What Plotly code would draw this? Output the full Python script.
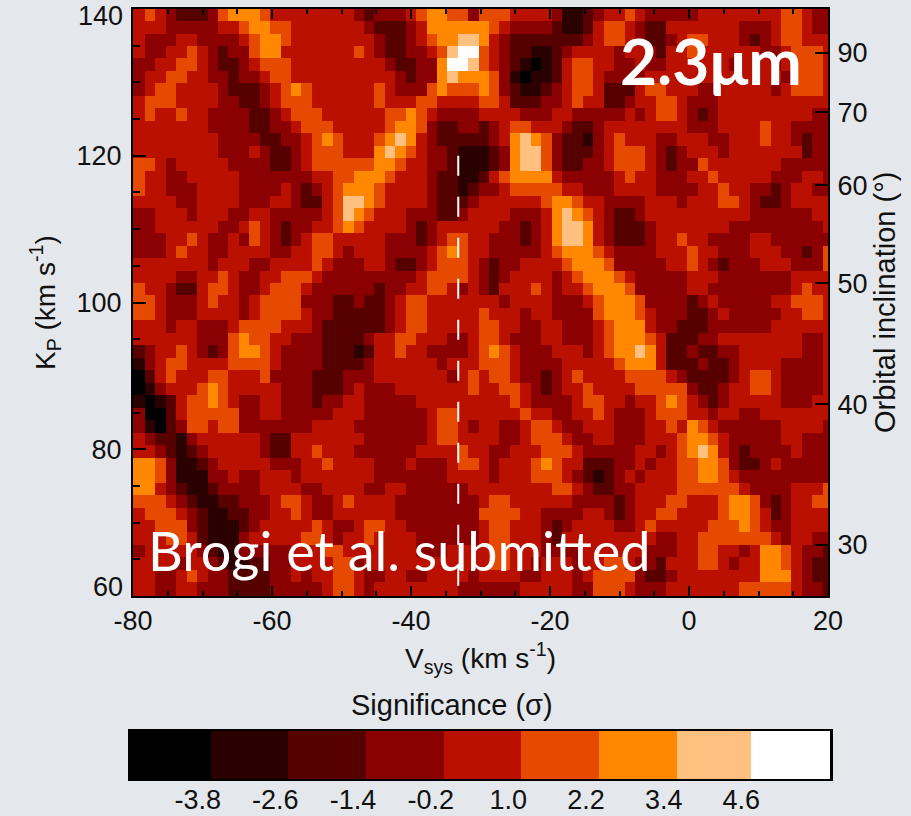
import plotly.graph_objects as go

# significance band per cell, top row first: digit = colour band index
ROWS_LEFT = [
"4543222356 6654444444 4323334566 553",
"4443333344 5665544444 4432223466 666",
"4333443333 4566544444 4443223456 677",
"4334454323 3566444444 4543223345 788",
"3344554322 3455544444 4444322336 887",
"3445544332 3345544444 4444432336 766",
"3455444432 2234565444 4445433356 555",
"4555444433 2234555444 4445444554 444",
"4544544333 3223455544 4444556543 333",
"4444444333 3223345554 4444566532 233",
"4444444433 3322334565 4445676432 222",
"4444444433 3432234555 4446765433 211",
"5543444443 3332234555 5556654433 211",
"5443344444 3333333445 5666544432 211",
"5443334444 3333432345 6665444432 212",
"4444334444 3334432245 7765444432 223",
"3344434443 3443333345 7654443332 234",
"3344444433 4543233445 6544443234 444",
"3334454334 3543234554 4444333234 554",
"3334544334 4443344554 3444333345 654",
"4444444344 4334444543 3344322345 554",
"4444334454 3344555433 3333333455 554",
"5443224554 3345554333 3332334455 434",
"5543334544 3455553332 2322345544 444",
"5543334444 3455554332 2222345544 444",
"4443443334 5555444322 2222345544 444",
"4444443335 6554433322 2234455444 334",
"2344543235 6654333322 2124454433 334",
"1345544445 5554333322 2234444443 444",
"0245444554 4453333222 3334444444 345",
"0134445654 4444333222 3433344444 445",
"1012455654 3344333233 4433333444 444",
"3002455555 3344333334 4433333345 544",
"3102355455 3333333444 4333333345 543",
"4322134444 4432244444 4433333345 544",
"4432123444 4432244544 4333333444 454",
"6653112344 4443334454 4443334333 455",
"6653111334 3344434444 4443333333 444",
"6643211233 3344443344 4433443333 334",
"5554321122 3334554334 5444433333 333",
"4555432112 2334454334 4444433333 333",
"4455532111 2344444543 3455443333 333",
"4445542111 3444445543 4454444333 333",
"3444443211 3333344455 4444444333 444",
"4444344321 1223344445 5344444444 444",
"4433454332 2223343445 5433443344 443",
"4433443332 2223333345 5434444444 433",
]
ROWS_RIGHT = [
"5554444311 2344543333 3444444445 5433",
"6543333211 2455432244 4444433345 5433",
"6432222222 3455432234 5544432345 5444",
"5432211234 4443443244 5444444334 5554",
"5432101245 5443343344 4444344434 5554",
"6531011245 5433334444 4444444443 5554",
"6532112345 5422245544 4334444434 5554",
"5542223345 4422344554 3334444444 4444",
"4444333443 3333434554 3234444444 4433",
"2345544432 2344444444 3334444544 3333",
"2346765322 1345444334 4433444544 3233",
"1236775322 2345554323 4443444444 4233",
"1236775322 3345554323 3544444443 3333",
"2456666433 3334544333 4454444433 3443",
"3345555544 3334444333 3445443323 4433",
"4444445665 4433334443 4445543223 4444",
"4443334676 5432234444 4444443333 3344",
"4433234677 6432223444 4444333333 3334",
"4333234677 6432223445 4433334433 3333",
"4333334566 6543333444 5443334443 3235",
"3233444456 6653333344 5432333444 3335",
"3234444345 6665433333 4443333333 4444",
"3244454344 5666533333 4433333333 4544",
"4434444333 4566653333 2343333344 5554",
"5444344333 3566654333 2234333334 4554",
"5544334433 3456664332 2233333344 4444",
"5543334433 3456665422 2334444444 4334",
"5654333444 3456676422 3223344444 4334",
"5554333344 4445666422 2322344443 3334",
"4554332345 4444555543 2222345543 3334",
"4455432344 5444455555 3223445543 3334",
"4445433334 5544344565 4323444443 3344",
"4444544334 4543334555 4434433444 4444",
"4433455433 4443334454 6543333334 4443",
"4433455543 3443334445 6654333334 4333",
"4334445554 3333344345 6764323333 4333",
"4344456544 2223343445 5665322343 3333",
"4344455543 2123434445 5665433333 3333",
"4444444554 3223344445 5555543333 4445",
"4554444443 3332344455 4445665323 4455",
"5555443333 4432344554 4445665423 4444",
"4554443234 4443345444 4455565433 4444",
"4554443244 4444444334 4555555543 4433",
"4554443333 4444443334 4554434665 4332",
"4554434443 4455433244 4554344665 4322",
"4444334443 4555532234 4444444666 4322",
"3333444443 3555433344 4444455555 4332",
]

LEVEL_SIGMA = [-4.2, -3.0, -1.8, -0.6, 0.6, 1.8, 3.0, 4.2, 5.4]
LEVEL_COLORS = ["#000000", "#2b0000", "#570000", "#8b0000", "#b91000",
                "#e54a00", "#ff8800", "#ffc080", "#ffffff"]
CB_TICKS = [-3.8, -2.6, -1.4, -0.2, 1.0, 2.2, 3.4, 4.6]
CB_LABELS = ["-3.8", "-2.6", "-1.4", "-0.2", "1.0", "2.2", "3.4", "4.6"]
CB_BOUNDS = [-4.83, -3.6, -2.4, -1.2, 0.0, 1.2, 2.4, 3.6, 4.75, 5.97]
X_TICKS = [-80, -60, -40, -20, 0, 20]
X_LABELS = ["-80", "-60", "-40", "-20", "0", "20"]
Y_TICKS = [80, 100, 120]
INCL_TICKS = [90, 70, 60, 50, 40, 30]
INCL_KP = [134.0, 125.9, 116.0, 102.6, 86.1, 67.0]
DASH_X = [-33.2, -33.2]
DASH_Y = [120.0, 60.0]

W, H = 911, 816
LEFT = [r.replace(" ", "") for r in ROWS_LEFT]
RIGHT = [r.replace(" ", "") for r in ROWS_RIGHT]
rows = [l + r for l, r in zip(LEFT, RIGHT)]
z = [[LEVEL_SIGMA[int(c)] for c in row] for row in rows][::-1]
x_edges = [-80.0] + [-78.27 + 1.5 * k for k in range(66)] + [20.0]
y_edges = [60.0] + [61.86 + 1.7 * k for k in range(46)] + [140.0]

n = len(LEVEL_COLORS)
scale = []
for i, c in enumerate(LEVEL_COLORS):
    scale += [[i / n, c], [(i + 1) / n, c]]

FONT = "Liberation Sans"
TICK_SIZE = 27
fig = go.Figure()
fig.add_trace(go.Heatmap(z=z, x=x_edges, y=y_edges, colorscale=scale, zmin=-4.8, zmax=6.0,
                         showscale=False, xaxis="x", yaxis="y"))
fig.add_trace(go.Scatter(x=DASH_X, y=DASH_Y, mode="lines", xaxis="x", yaxis="y2", showlegend=False,
                         line=dict(color="white", width=2, dash="20px,21px")))
fig.add_trace(go.Heatmap(z=[LEVEL_SIGMA], x=CB_BOUNDS, y=[0, 1], colorscale=scale, zmin=-4.8, zmax=6.0,
                         showscale=False, xaxis="x3", yaxis="y3"))

def fx(p): return p / W
def fy(p): return 1 - p / H

axis_common = dict(showline=True, linecolor="black", linewidth=2, showgrid=False, zeroline=False,
                   automargin=False, tickfont=dict(family=FONT, size=TICK_SIZE, color="#111"), tickcolor="black")
fig.update_layout(
    width=W, height=H, margin=dict(l=0, r=0, t=0, b=0, pad=0), showlegend=False,
    paper_bgcolor="#e4e7ec", plot_bgcolor="#e4e7ec",
    font=dict(family=FONT, size=25, color="#111"),
    xaxis=dict(domain=[fx(133), fx(828)], range=[-80, 20], anchor="y", mirror="ticks",
               ticks="inside", tickvals=X_TICKS, ticktext=X_LABELS, ticklen=10, tickwidth=2,
               minor=dict(tick0=-80, dtick=5, ticks="inside", ticklen=5, tickwidth=1.5, tickcolor="black"),
               **axis_common),
    yaxis=dict(domain=[fy(596), fy(9)], range=[60, 140], anchor="x",
               ticks="inside", tickvals=Y_TICKS, ticklen=13, tickwidth=2, ticklabelstandoff=4,
               minor=dict(tick0=60, dtick=5, ticks="inside", ticklen=7, tickwidth=1.5, tickcolor="black"),
               **axis_common),
    yaxis2=dict(domain=[fy(596), fy(9)], range=[60, 140], overlaying="y", side="right", anchor="x",
                ticks="inside", tickvals=INCL_KP, ticktext=[str(v) for v in INCL_TICKS],
                ticklen=13, tickwidth=2, ticklabelstandoff=2, **axis_common),
    xaxis3=dict(domain=[fx(131), fx(830)], range=[CB_BOUNDS[0], CB_BOUNDS[-1]], anchor="y3", mirror=True,
                ticks="", tickvals=CB_TICKS, ticktext=CB_LABELS, ticklabelstandoff=-4, **axis_common),
    yaxis3=dict(domain=[fy(779), fy(731)], range=[0, 1], anchor="x3", mirror=True, ticks="",
                showticklabels=False, showline=True, linecolor="black", linewidth=3, showgrid=False,
                zeroline=False, automargin=False),
)

def note(text, px, py, size, color="#111", family=FONT, angle=0, xanchor="center", yanchor="middle", bold=False):
    fig.add_annotation(text=f"<b>{text}</b>" if bold else text, x=px / W, y=1 - py / H, xref="paper", yref="paper",
                       showarrow=False, textangle=angle, xanchor=xanchor, yanchor=yanchor,
                       font=dict(family=family, size=size, color=color), borderpad=0)

note("140", 124, 16, TICK_SIZE, xanchor="right")
note("60", 124, 587, TICK_SIZE, xanchor="right")
note("K<sub>P</sub> (km s<sup>-1</sup>)", 45, 303, 28, angle=-90)
note("Orbital inclination (°)", 885, 303, 29, angle=-90)
note("V<sub>sys</sub> (km s<sup>-1</sup>)", 481, 658, 28)
note("Significance (σ)", 452, 705, 29)
note("2.3μm", 711, 61, 64, color="white", family="Lato", bold=True)
note("Brogi et al. submitted", 399, 550, 54, color="white", family="Lato")
fig.write_html("out.html", config={"displayModeBar": False},
               post_script="document.body.style.margin='0';document.body.style.overflow='hidden';")
